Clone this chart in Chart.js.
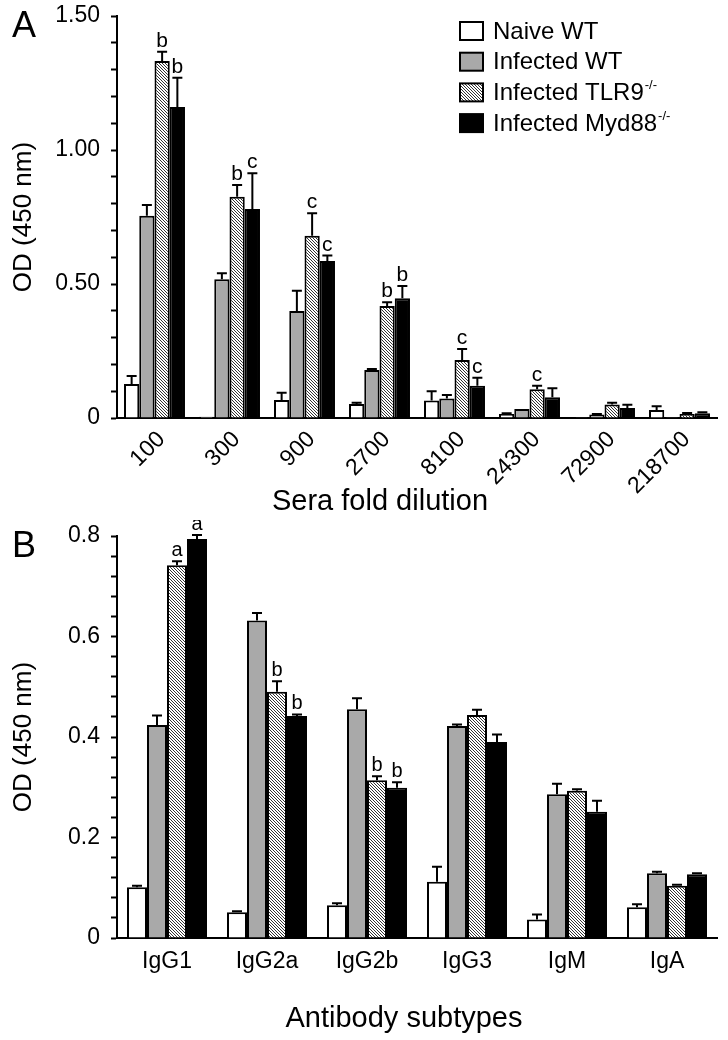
<!DOCTYPE html>
<html><head><meta charset="utf-8">
<script src="https://cdn.jsdelivr.net/npm/chart.js@4"></script>
<style>
html,body{margin:0;padding:0;background:#fff;}
#wrap{position:relative;width:728px;height:1040px;overflow:hidden;}
canvas{position:absolute;left:0;}
#cA{top:0}
#cB{top:520px}
</style></head><body>
<div id="wrap"><canvas id="cA" width="728" height="520"></canvas><canvas id="cB" width="728" height="520"></canvas></div>
<script>
// ---------- DATA ----------
const seriesNames = ['Naive WT', 'Infected WT', 'Infected TLR9', 'Infected Myd88'];
const seriesSup   = ['', '', '-/-', '-/-'];

// Panel A
const categoriesA = ['100','300','900','2700','8100','24300','72900','218700'];
const naiveA    = [0.127, 0.005, 0.067, 0.052, 0.065, 0.015, 0.003, 0.030];
const naiveAErr = [0.030, 0.000, 0.027, 0.005, 0.035, 0.003, 0.000, 0.014];
const infWtA    = [0.755, 0.518, 0.399, 0.179, 0.073, 0.034, 0.013, 0.004];
const infWtAErr = [0.040, 0.022, 0.076, 0.004, 0.013, 0.000, 0.002, 0.000];
const tlr9A     = [1.332, 0.826, 0.680, 0.418, 0.216, 0.107, 0.050, 0.015];
const tlr9AErr  = [0.035, 0.043, 0.084, 0.014, 0.041, 0.013, 0.007, 0.004];
const myd88A    = [1.160, 0.780, 0.586, 0.447, 0.120, 0.077, 0.037, 0.018];
const myd88AErr = [0.110, 0.133, 0.020, 0.046, 0.030, 0.034, 0.012, 0.003];
const sigTlr9A  = ['b','b','c','b','c','c','',''];
const sigMyd88A = ['b','c','c','b','c','','',''];
const yTickValuesA = [0, 0.5, 1.0, 1.5];
const yTickLabelsA = ['0', '0.50', '1.00', '1.50'];
const yMaxA = 1.5, yMinorStepA = 0.1;

// Panel B
const categoriesB = ['IgG1','IgG2a','IgG2b','IgG3','IgM','IgA'];
const naiveB    = [0.101, 0.051, 0.065, 0.112, 0.037, 0.061];
const naiveBErr = [0.003, 0.002, 0.004, 0.030, 0.010, 0.006];
const infWtB    = [0.424, 0.632, 0.455, 0.422, 0.286, 0.129];
const infWtBErr = [0.019, 0.015, 0.022, 0.003, 0.021, 0.003];
const tlr9B     = [0.742, 0.490, 0.314, 0.444, 0.293, 0.104];
const tlr9BErr  = [0.008, 0.021, 0.008, 0.010, 0.003, 0.002];
const myd88B    = [0.794, 0.442, 0.299, 0.390, 0.251, 0.127];
const myd88BErr = [0.008, 0.003, 0.011, 0.015, 0.022, 0.002];
const sigTlr9B  = ['a','b','b','','',''];
const sigMyd88B = ['a','b','b','','',''];
const yTickValuesB = [0, 0.2, 0.4, 0.6, 0.8];
const yTickLabelsB = ['0', '0.2', '0.4', '0.6', '0.8'];
const yMaxB = 0.8, yMinorStepB = 0.04;

// ---------- STYLE ----------
const FONT = '"Liberation Sans", Arial, Helvetica, sans-serif';
const GREY = '#a9a9a9';

function makeHatch(ctx) {
  const c = document.createElement('canvas');
  c.width = 6; c.height = 6;
  const g = c.getContext('2d');
  g.fillStyle = '#fff'; g.fillRect(0, 0, 6, 6);
  g.strokeStyle = '#333'; g.lineWidth = 1.0;
  g.beginPath();
  for (const o of [-6, -3, 0, 3, 6]) { g.moveTo(o - 1, -1); g.lineTo(o + 7, 7); }
  g.stroke();
  return ctx.createPattern(c, 'repeat');
}

function extrasPlugin(cfg) {
  return {
    id: 'extras',
    afterDatasetsDraw(chart) {
      const ctx = chart.ctx, ys = chart.scales.y;
      ctx.save();
      ctx.strokeStyle = '#000'; ctx.lineWidth = 2;
      chart.data.datasets.forEach((ds, i) => {
        const meta = chart.getDatasetMeta(i);
        meta.data.forEach((bar, j) => {
          const e = cfg.errs[i][j];
          const v = ds.data[j];
          const yTop = ys.getPixelForValue(v + e);
          if (e > 0) {
            ctx.beginPath();
            ctx.moveTo(bar.x, bar.y); ctx.lineTo(bar.x, yTop);
            ctx.moveTo(bar.x - 5, yTop); ctx.lineTo(bar.x + 5, yTop);
            ctx.stroke();
          }
          const s = cfg.sig[i] && cfg.sig[i][j];
          if (s) {
            ctx.fillStyle = '#000';
            ctx.font = cfg.sigSize + 'px ' + FONT;
            ctx.textAlign = 'center'; ctx.textBaseline = 'alphabetic';
            ctx.fillText(s, bar.x, yTop - 5);
          }
        });
      });
      ctx.restore();
    },
    afterDraw(chart) {
      const ctx = chart.ctx, a = chart.chartArea;
      ctx.save();
      ctx.fillStyle = '#000';
      // panel letter
      ctx.font = '36px ' + FONT; ctx.textAlign = 'left'; ctx.textBaseline = 'alphabetic';
      ctx.fillText(cfg.panel, 12, 37);
      // x title
      ctx.font = '29px ' + FONT; ctx.textAlign = 'center';
      ctx.fillText(cfg.xTitle, a.left + cfg.xTitleDx, a.bottom + cfg.xTitleDy);
      // legend
      if (cfg.legend) {
        const x0 = 460, bw = 23, bh = 18;
        chart.data.datasets.forEach((ds, i) => {
          const cy = 31 + i * 30.7;
          ctx.fillStyle = ds.backgroundColor;
          ctx.fillRect(x0, cy - bh / 2, bw, bh);
          ctx.strokeStyle = '#000'; ctx.lineWidth = 2;
          ctx.strokeRect(x0, cy - bh / 2, bw, bh);
          ctx.fillStyle = '#000';
          ctx.font = '24px ' + FONT; ctx.textAlign = 'left'; ctx.textBaseline = 'middle';
          ctx.fillText(seriesNames[i], 493, cy + 1);
          if (seriesSup[i]) {
            const w = ctx.measureText(seriesNames[i]).width;
            ctx.font = '13px ' + FONT;
            ctx.fillText(seriesSup[i], 493 + w + 1, cy - 7);
          }
        });
      }
      ctx.restore();
    }
  };
}

function makeChart(canvasId, cats, vals, errs, sigs, yMax, yStep, tickVals, tickLabels, opts) {
  const ctx = document.getElementById(canvasId).getContext('2d');
  const hatch = makeHatch(ctx);
  const colors = ['#ffffff', GREY, hatch, '#000000'];
  const datasets = vals.map((d, i) => ({
    label: seriesNames[i] + seriesSup[i],
    data: d,
    backgroundColor: colors[i],
    borderColor: '#000',
    borderWidth: 2,
    borderSkipped: 'start',
    categoryPercentage: opts.catPct,
    barPercentage: 1.0
  }));
  return new Chart(ctx, {
    type: 'bar',
    data: { labels: cats, datasets },
    options: {
      responsive: false, animation: false, events: [],
      layout: { padding: { left: 0, right: 11, top: 16, bottom: 0 } },
      plugins: { legend: { display: false }, tooltip: { enabled: false } },
      scales: {
        x: {
          grid: { display: true, drawOnChartArea: false, drawTicks: false, color: '#000' },
          border: { display: true, color: '#000', width: 2 },
          ticks: { color: '#000', font: { family: FONT, size: opts.xFont }, autoSkip: false,
                   maxRotation: opts.rot, minRotation: opts.rot, padding: opts.xPad, labelOffset: opts.xOff },
          afterFit(s) { s.height = 102; s.paddingLeft = 0; s.paddingRight = 0; }
        },
        y: {
          min: 0, max: yMax,
          border: { display: true, color: '#000', width: 2 },
          grid: { display: true, drawOnChartArea: false, drawTicks: true, tickLength: 6, color: '#000', tickWidth: 2 },
          ticks: {
            color: '#000', font: { family: FONT, size: 23 }, padding: 11, autoSkip: false,
            callback(v) {
              const k = tickVals.findIndex(t => Math.abs(t - v) < 1e-6);
              return k >= 0 ? tickLabels[k] : '';
            }
          },
          afterBuildTicks(s) {
            const n = Math.round(yMax / yStep);
            const t = [];
            for (let i = 0; i <= n; i++) t.push({ value: +(i * yStep).toFixed(6) });
            s.ticks = t;
          },
          title: { display: true, text: 'OD (450 nm)', color: '#000', font: { family: FONT, size: 26 }, padding: { top: 8, bottom: 0 } },
          afterFit(s) { s.width = 117; s.paddingTop = 0; s.paddingBottom = 0; }
        }
      }
    },
    plugins: [extrasPlugin({
      errs, sig: sigs, sigSize: opts.sigSize, panel: opts.panel, xTitle: opts.xTitle,
      xTitleDx: opts.xTitleDx, xTitleDy: opts.xTitleDy, legend: opts.legend
    })]
  });
}

makeChart('cA', categoriesA,
  [naiveA, infWtA, tlr9A, myd88A],
  [naiveAErr, infWtAErr, tlr9AErr, myd88AErr],
  [null, null, sigTlr9A, sigMyd88A],
  yMaxA, yMinorStepA, yTickValuesA, yTickLabelsA,
  { catPct: 0.813, rot: 45, xFont: 23, xPad: 8, xOff: 7, sigSize: 21, panel: 'A',
    xTitle: 'Sera fold dilution', xTitleDx: 263, xTitleDy: 92, legend: true });

makeChart('cB', categoriesB,
  [naiveB, infWtB, tlr9B, myd88B],
  [naiveBErr, infWtBErr, tlr9BErr, myd88BErr],
  [null, null, sigTlr9B, sigMyd88B],
  yMaxB, yMinorStepB, yTickValuesB, yTickLabelsB,
  { catPct: 0.8, rot: 0, xFont: 23, xPad: 10, xOff: 0, sigSize: 20, panel: 'B',
    xTitle: 'Antibody subtypes', xTitleDx: 287, xTitleDy: 89, legend: false });
</script>
</body></html>
